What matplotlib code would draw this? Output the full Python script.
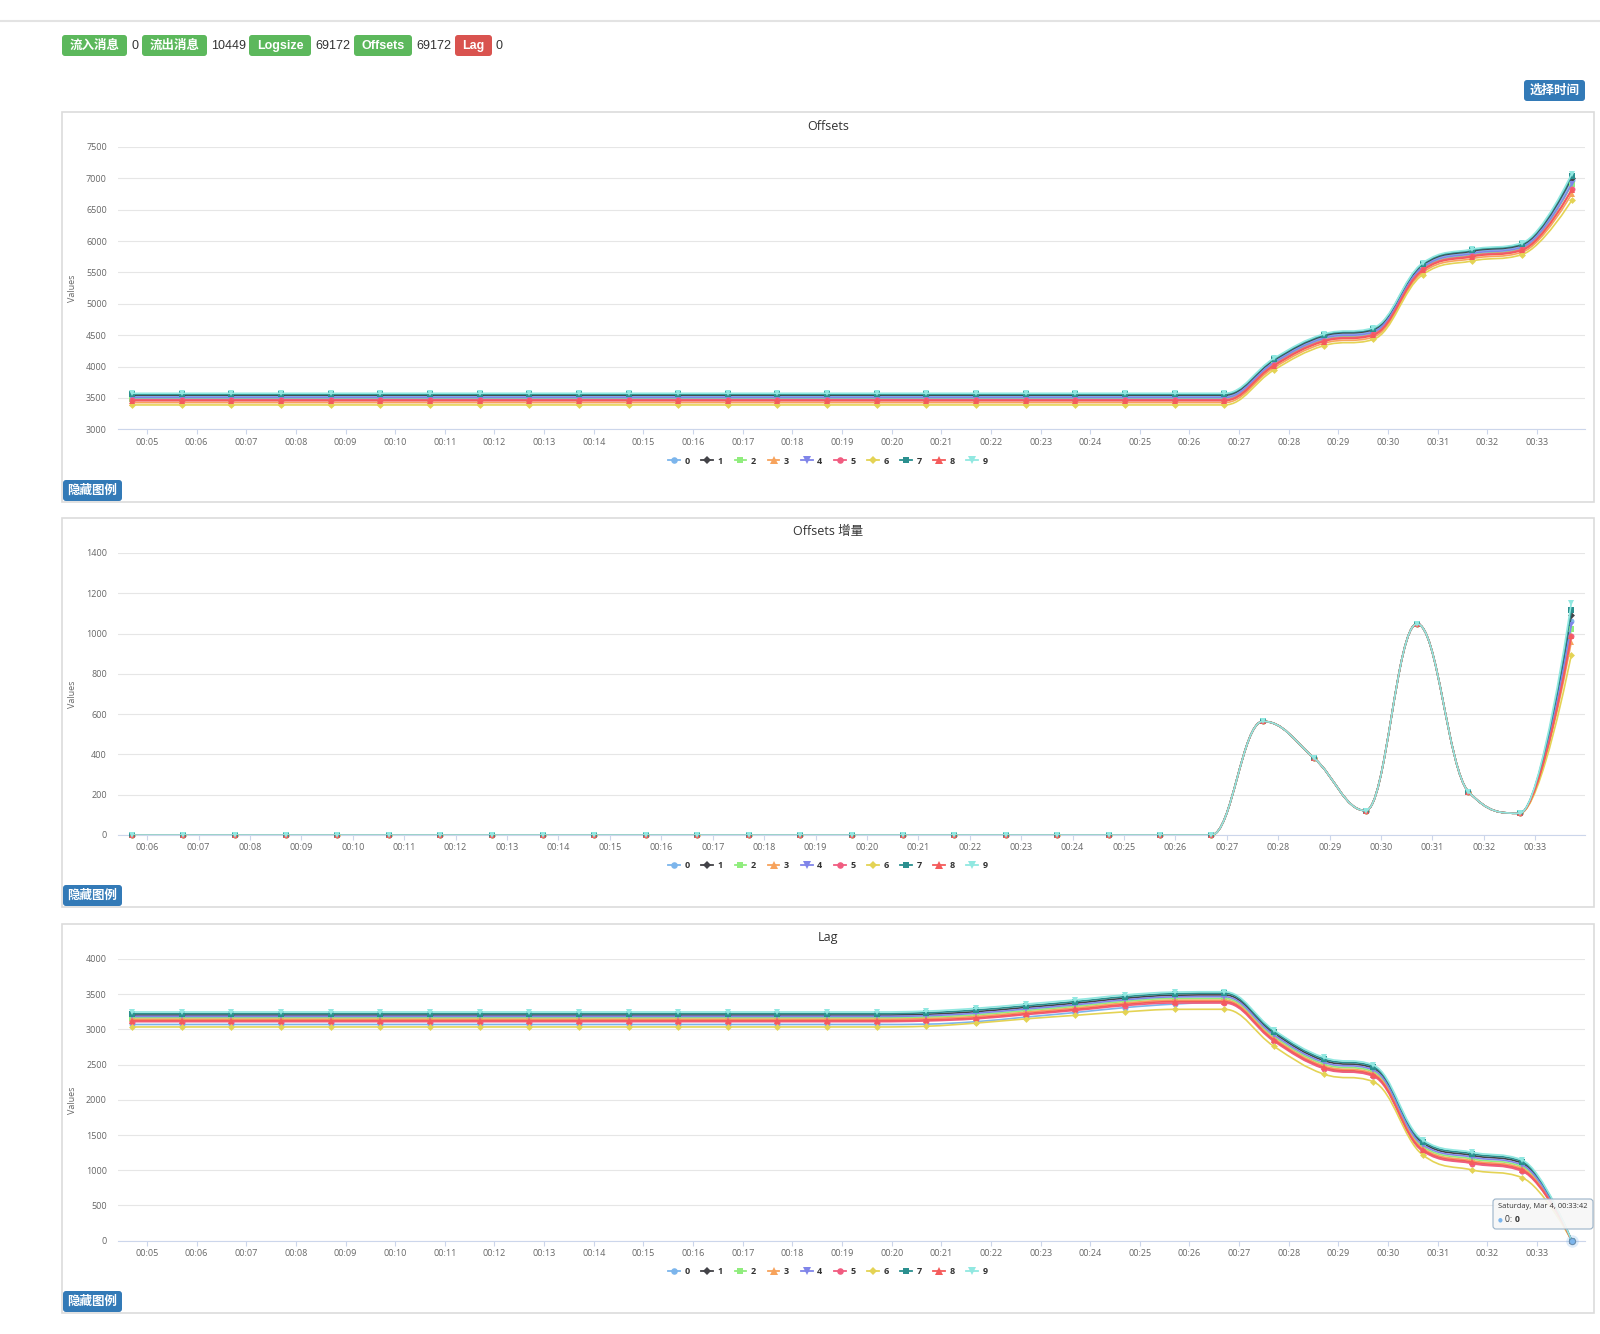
import numpy as np
import pandas as pd
import matplotlib
matplotlib.use("Agg")
import matplotlib.pyplot as plt
import matplotlib.dates as mdates
from matplotlib.path import Path
from matplotlib.patches import PathPatch, FancyBboxPatch, Rectangle
from matplotlib.lines import Line2D

plt.rcParams['font.family'] = ['Open Sans', 'Noto Sans CJK SC', 'DejaVu Sans']
UI_FONT = ['Liberation Sans', 'Noto Sans CJK SC', 'DejaVu Sans']

W, H = 1600, 1334

# ---- data -------------------------------------------------------------
partitions = ['0', '1', '2', '3', '4', '5', '6', '7', '8', '9']
colors = ['#7cb5ec', '#434348', '#90ed7d', '#f7a35c', '#8085e9',
          '#f15c80', '#e4d354', '#2b908f', '#f45b5b', '#91e8e1']
markers = ['o', 'D', 's', '^', 'v', 'o', 'D', 's', '^', 'v']

times = pd.date_range('2017-03-04 00:04:42', periods=30, freq='min')

stats_labels = ['流入消息', '流出消息', 'Logsize', 'Offsets', 'Lag']
stats_values = ['0', '10449', '69172', '69172', '0']

# Offsets: flat from 00:04:42 to 00:26:42, then 00:27:42 .. 00:33:42
offsets_flat = [3525, 3545, 3485, 3425, 3505, 3470, 3388, 3560, 3455, 3574]
offsets_tail = [
    [4082, 4469, 4569, 5604, 5822, 5923, 6973],
    [4102, 4489, 4589, 5624, 5842, 5943, 7013],
    [4042, 4429, 4529, 5564, 5782, 5883, 6903],
    [3982, 4369, 4469, 5504, 5722, 5823, 6753],
    [4062, 4449, 4549, 5584, 5802, 5903, 6913],
    [4027, 4414, 4514, 5549, 5767, 5868, 6828],
    [3945, 4332, 4432, 5467, 5685, 5786, 6650],
    [4117, 4504, 4604, 5639, 5857, 5958, 7043],
    [4012, 4399, 4499, 5534, 5752, 5853, 6813],
    [4131, 4518, 4618, 5653, 5871, 5972, 7076],
]

# Offsets increment: zero from 00:05:42 to 00:26:42, then 00:27:42 .. 00:33:42
delta_tail = [
    [564, 381, 121, 1048, 215, 108, 1060],
    [564, 381, 121, 1048, 215, 108, 1094],
    [564, 381, 121, 1048, 215, 108, 1025],
    [564, 381, 121, 1048, 215, 108, 960],
    [564, 381, 121, 1048, 215, 108, 1045],
    [564, 381, 121, 1048, 215, 108, 987],
    [564, 381, 121, 1048, 215, 108, 895],
    [564, 381, 121, 1048, 215, 108, 1116],
    [564, 381, 121, 1048, 215, 108, 990],
    [564, 381, 121, 1048, 215, 108, 1153],
]

# Lag: flat from 00:04:42 to 00:19:42, then 00:20:42 .. 00:33:42
lag_flat = [3070, 3205, 3165, 3145, 3185, 3110, 3035, 3225, 3125, 3248]
lag_tail = [
    [3075, 3110, 3175, 3240, 3310, 3360, 3385, 2842, 2454, 2345, 1280, 1105, 996, 0],
    [3215, 3252, 3312, 3372, 3442, 3485, 3490, 2947, 2559, 2450, 1385, 1210, 1101, 0],
    [3175, 3208, 3268, 3328, 3398, 3440, 3440, 2897, 2509, 2400, 1335, 1160, 1051, 0],
    [3155, 3185, 3245, 3305, 3375, 3415, 3415, 2872, 2484, 2375, 1310, 1135, 1026, 0],
    [3195, 3230, 3290, 3350, 3420, 3462, 3465, 2922, 2534, 2425, 1360, 1185, 1076, 0],
    [3120, 3150, 3210, 3270, 3338, 3375, 3375, 2832, 2444, 2335, 1270, 1095, 986, 0],
    [3045, 3090, 3150, 3200, 3250, 3285, 3286, 2760, 2367, 2258, 1217, 1004, 895, 0],
    [3237, 3275, 3335, 3395, 3465, 3508, 3515, 2970, 2582, 2473, 1408, 1233, 1124, 0],
    [3135, 3165, 3225, 3285, 3355, 3395, 3395, 2852, 2464, 2355, 1290, 1115, 1006, 0],
    [3260, 3300, 3360, 3420, 3490, 3530, 3535, 2992, 2604, 2495, 1430, 1255, 1146, 0],
]

offsets = [[offsets_flat[i]] * 23 + offsets_tail[i] for i in range(10)]
deltas = [[0] * 22 + delta_tail[i] for i in range(10)]
lags = [[lag_flat[i]] * 16 + lag_tail[i] for i in range(10)]


# ---- helpers ----------------------------------------------------------
def spline_path(x, y, smoothing=1.5):
    # same control point rule as a Highcharts "spline" series
    x = np.asarray(x, float)
    y = np.asarray(y, float)
    n = len(x)
    lc = np.column_stack([x, y])
    rc = lc.copy()
    d = smoothing + 1
    for i in range(1, n - 1):
        px, py = x[i], y[i]
        lx, ly = x[i - 1], y[i - 1]
        nx, ny = x[i + 1], y[i + 1]
        lcx = (smoothing * px + lx) / d
        lcy = (smoothing * py + ly) / d
        rcx = (smoothing * px + nx) / d
        rcy = (smoothing * py + ny) / d
        corr = (rcy - lcy) * (rcx - px) / (rcx - lcx) + py - rcy
        lcy += corr
        rcy += corr
        if lcy > ly and lcy > py:
            lcy = max(ly, py); rcy = 2 * py - lcy
        elif lcy < ly and lcy < py:
            lcy = min(ly, py); rcy = 2 * py - lcy
        if rcy > ny and rcy > py:
            rcy = max(ny, py); lcy = 2 * py - rcy
        elif rcy < ny and rcy < py:
            rcy = min(ny, py); lcy = 2 * py - rcy
        lc[i] = lcx, lcy
        rc[i] = rcx, rcy
    verts = [(x[0], y[0])]
    codes = [Path.MOVETO]
    for i in range(1, n):
        verts += [tuple(rc[i - 1]), tuple(lc[i]), (x[i], y[i])]
        codes += [Path.CURVE4] * 3
    return Path(verts, codes)


def msize(m):
    return {'o': 4.3, 'D': 3.5, 's': 3.9, '^': 4.7, 'v': 4.7}[m]


fig = plt.figure(figsize=(W / 100, H / 100), dpi=100)
bg = fig.add_axes([0, 0, 1, 1], zorder=0)
bg.set_xlim(0, W)
bg.set_ylim(H, 0)
bg.axis('off')
fg = fig.add_axes([0, 0, 1, 1], zorder=5)
fg.set_xlim(0, W)
fg.set_ylim(H, 0)
fg.axis('off')
fg.patch.set_alpha(0)


def button(x, y, w, h, text, color, size=8.5):
    bg.add_patch(FancyBboxPatch((x, y), w, h, boxstyle='round,pad=0,rounding_size=3',
                                fc=color, ec='none'))
    bg.text(x + w / 2, y + h / 2 + 0.5, text, color='white', fontsize=size,
            fontweight='bold', ha='center', va='center', family=UI_FONT)


# top rule + stats badges
bg.plot([0, W], [21, 21], color='#e3e3e3', lw=1.5)
badge_x = [62, 142, 249, 354, 455]
badge_w = [65, 65, 62, 58, 37]
value_x = [132, 211, 315, 416, 496]
for lab, val, bx, bw, vx in zip(stats_labels, stats_values, badge_x, badge_w, value_x):
    button(bx, 35, bw, 21, lab, '#d9534f' if lab == 'Lag' else '#5cb85c', size=9)
    bg.text(vx, 46, val, fontsize=9, color='#333333', ha='left', va='center', family=UI_FONT)

button(1524, 80, 61, 21, '选择时间', '#337ab7', size=9)

panels = [
    dict(box=(112, 502), plot=(147, 429.3), title='Offsets', ylim=(3000, 7500), step=500,
         data=offsets, t=times, legend_y=461, start=17),
    dict(box=(518, 907), plot=(553, 835), title='Offsets 增量', ylim=(0, 1400), step=200,
         data=deltas, t=times[1:], legend_y=866, start=16),
    dict(box=(924, 1313), plot=(959, 1240.7), title='Lag', ylim=(0, 4000), step=500,
         data=lags, t=times, legend_y=1272, start=17),
]

axes = []
for p in panels:
    top, bottom = p['box']
    bg.add_patch(Rectangle((62, top), 1532, bottom - top, fill=False, ec='#dcdcdc', lw=1.2))
    button(63, bottom - 22, 59, 21, '隐藏图例', '#337ab7', size=9)

    pt, pb = p['plot']
    left, right = 118, 1585
    ax = fig.add_axes([left / W, 1 - pb / H, (right - left) / W, (pb - pt) / H], zorder=1)
    axes.append(ax)
    ax.set_facecolor('white')
    for s in ['top', 'right', 'left']:
        ax.spines[s].set_visible(False)
    ax.spines['bottom'].set_color('#ccd6eb')
    ax.spines['bottom'].set_linewidth(0.8)
    ax.grid(axis='y', color='#e6e6e6', lw=0.8)
    ax.set_axisbelow(True)

    t = p['t']
    tx = mdates.date2num(t)
    for i in range(10):
        y = p['data'][i]
        ax.add_patch(PathPatch(spline_path(tx, y), fill=False, ec=colors[i], lw=1.2,
                               capstyle='round', joinstyle='round', zorder=2 + i * 0.1))
        ax.plot(t, y, ls='none', marker=markers[i], ms=msize(markers[i]), mew=0,
                color=colors[i], zorder=2.05 + i * 0.1, clip_on=False)

    ax.set_xlim(t[0] - pd.Timedelta(seconds=p['start']), t[-1] + pd.Timedelta(seconds=16))
    ax.set_ylim(*p['ylim'])
    ax.set_yticks(np.arange(p['ylim'][0], p['ylim'][1] + 1, p['step']))
    ax.xaxis.set_major_locator(mdates.MinuteLocator())
    ax.xaxis.set_major_formatter(mdates.DateFormatter('%H:%M'))
    ax.tick_params(axis='y', length=0, labelsize=6.5, labelcolor='#666666', pad=8)
    ax.tick_params(axis='x', length=3.5, width=0.8, color='#ccd6eb', labelsize=6.5,
                   labelcolor='#666666', pad=2.5)
    ax.set_ylabel('Values', fontsize=6.5, color='#666666')
    ax.yaxis.set_label_coords((77 - left) / (right - left), 0.5)

    fig.text(828 / W, 1 - (p['box'][0] + 14) / H, p['title'], fontsize=9, color='#333333',
             ha='center', va='center')

    handles = [Line2D([], [], color=colors[i], lw=1.3, marker=markers[i],
                      ms=msize(markers[i]) * 1.1, mew=0) for i in range(10)]
    leg = fig.legend(handles, partitions, loc='center', ncol=10,
                     bbox_to_anchor=(828 / W, 1 - p['legend_y'] / H), frameon=False,
                     handlelength=1.3, handletextpad=0.5, columnspacing=1.3,
                     prop=dict(size=6.5, weight='bold'))
    for txt in leg.get_texts():
        txt.set_color('#333333')

# tooltip on the Lag chart
ax3 = axes[2]
ax3.plot(times[-1], lags[0][-1], 'o', ms=9, color=colors[0], alpha=0.25, mew=0,
         zorder=5, clip_on=False)
ax3.plot(times[-1], lags[0][-1], 'o', ms=4.5, mfc=colors[0], mec='#6a8fb0', mew=0.8,
         zorder=6, clip_on=False)
fg.add_patch(FancyBboxPatch((1493, 1199), 100, 30, boxstyle='round,pad=0,rounding_size=3',
                            fc=(0.97, 0.97, 0.97, 0.92), ec='#9bb3c9', lw=0.8))
fg.text(1498, 1207, 'Saturday, Mar 4, 00:33:42', fontsize=5.4, color='#333333',
        ha='left', va='center')
fg.text(1498, 1220, '●', fontsize=4, color=colors[0], ha='left', va='center',
        family=['DejaVu Sans'])
fg.text(1505, 1220, '0: ', fontsize=6.2, color='#333333', ha='left', va='center')
fg.text(1515, 1220, '0', fontsize=6.2, color='#333333', fontweight='bold',
        ha='left', va='center')

fig.savefig('out.png', dpi=100, facecolor='white')
